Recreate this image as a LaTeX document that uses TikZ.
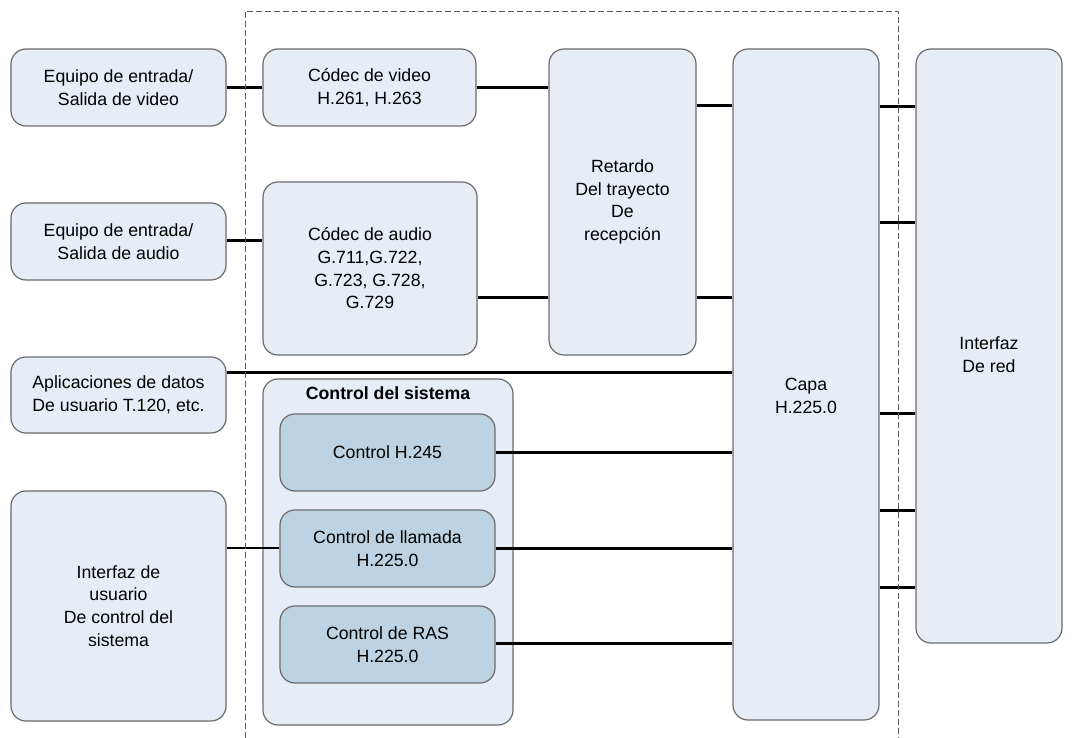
\documentclass[tikz,border=0pt]{standalone}
\usepackage{fontspec}
\setmainfont{Liberation Sans}
\begin{document}
\begin{tikzpicture}[x=1pt,y=-1pt,
  font=\fontsize{17.7}{22.7}\selectfont,
  blk/.style={draw=black!58, line width=1.2pt, rounded corners=15pt,
    fill=lightfill, align=center, inner sep=0pt},
  ctlblk/.style={blk, fill=darkfill},
  wire/.style={line width=3pt, black},
  thinwire/.style={line width=2pt, black},
  frame/.style={black!65, line width=0.9pt, dash pattern=on 6pt off 3pt}]
\definecolor{lightfill}{HTML}{E7EDF7}
\definecolor{darkfill}{HTML}{BDD3E3}
\useasboundingbox (0,0) rectangle (1089,738);

% left column
\node[blk, minimum width=215pt, minimum height=77pt] (eqv) at (118.5,87.5)
  {Equipo de entrada/\\Salida de video};
\node[blk, minimum width=215pt, minimum height=77pt] (eqa) at (118.5,241.5)
  {Equipo de entrada/\\Salida de audio};
\node[blk, minimum width=215pt, minimum height=76pt] (apl) at (118.5,395)
  {Aplicaciones de datos\\De usuario T.120, etc.};
\node[blk, minimum width=215pt, minimum height=230pt] (ui) at (118.5,606)
  {Interfaz de\\usuario\\De control del\\sistema};

% codecs and delay
\node[blk, minimum width=213pt, minimum height=77pt] (cv) at (369.5,87.5)
  {Códec de video\\H.261, H.263};
\node[blk, minimum width=214pt, minimum height=173pt] (ca) at (370,268.5)
  {Códec de audio\\G.711,G.722,\\G.723, G.728,\\G.729};
\node[blk, minimum width=147pt, minimum height=306pt] (ret) at (622.5,202)
  {Retardo\\Del trayecto\\De\\recepción};

% system control group
\node[blk, minimum width=250pt, minimum height=346pt] (ctl) at (388,552) {};
\node[font=\fontsize{17.7}{22.7}\selectfont\bfseries] (ctltitle) at (388,393)
  {Control del sistema};
\node[ctlblk, minimum width=215pt, minimum height=77pt] (h245) at (387.5,452.5)
  {Control H.245};
\node[ctlblk, minimum width=215pt, minimum height=77pt] (llam) at (387.5,548.5)
  {Control de llamada\\H.225.0};
\node[ctlblk, minimum width=215pt, minimum height=77pt] (ras) at (387.5,644.5)
  {Control de RAS\\H.225.0};

% layer and network interface
\node[blk, minimum width=146pt, minimum height=671pt] (capa) at (806,384.5) {};
\node[align=center] (capatxt) at (806,396) {Capa\\H.225.0};
\node[blk, minimum width=146pt, minimum height=594pt] (red) at (989,346) {};
\node[align=center] (redtxt) at (989,355) {Interfaz\\De red};

% connections
\draw[wire] (eqv.east) -- (cv.west);
\draw[wire] (cv.east) -- (ret.west |- cv.east);
\draw[wire] (eqa.east |- 0,240) -- (ca.west |- 0,240);
\draw[wire] (ca.east |- 0,297) -- (ret.west |- 0,297);
\draw[wire] (ret.east |- 0,106) -- (capa.west |- 0,106);
\draw[wire] (ret.east |- 0,297) -- (capa.west |- 0,297);
\draw[wire] (apl.east |- 0,372) -- (capa.west |- 0,372);
\draw[wire] (h245.east |- 0,452) -- (capa.west |- 0,452);
\draw[wire] (llam.east |- 0,548) -- (capa.west |- 0,548);
\draw[wire] (ras.east |- 0,643) -- (capa.west |- 0,643);
\draw[thinwire] (ui.east |- 0,548) -- (llam.west |- 0,548);
\foreach \yy in {107,222,413,510,587}
  \draw[wire] (capa.east |- 0,\yy) -- (red.west |- 0,\yy);

% terminal boundary
\draw[frame] (245,738) -- (245,11) -- (898,11) -- (898,738);
\end{tikzpicture}
\end{document}
